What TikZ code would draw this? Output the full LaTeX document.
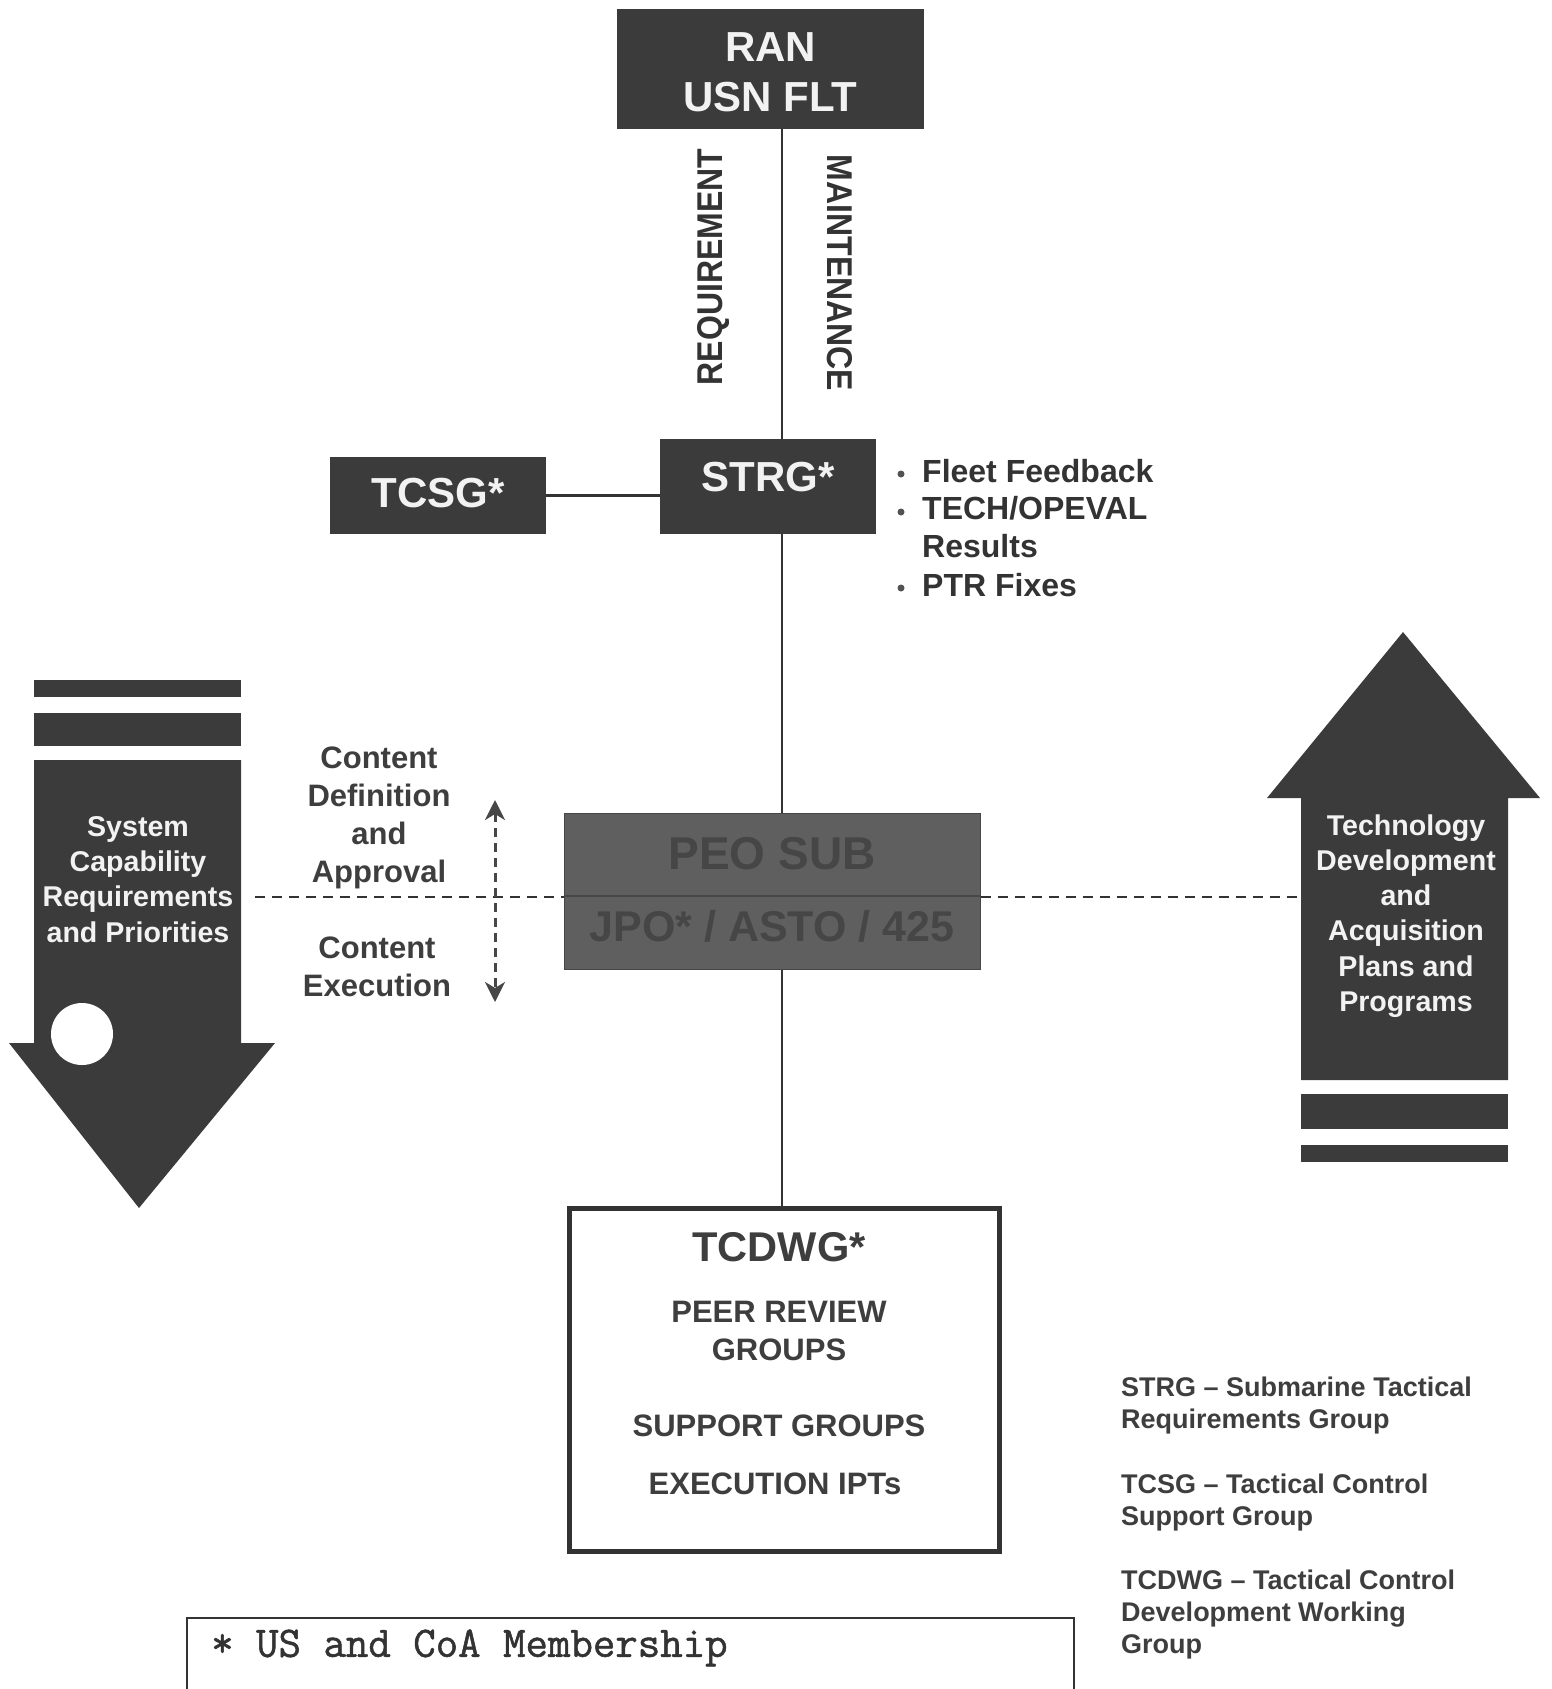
\documentclass[tikz,border=0pt]{standalone}
\usepackage{fontspec}
\setmainfont{Liberation Sans}
\newfontfamily\membfont{Latin Modern Mono}[FakeBold=1.2]
\usetikzlibrary{arrows.meta}
\definecolor{dk}{HTML}{3B3B3B}
\definecolor{peofill}{HTML}{5F5F5F}
\definecolor{peotxt}{HTML}{464646}
\definecolor{ink}{HTML}{333333}
\definecolor{wtxt}{HTML}{F2F2F2}
\definecolor{gtxt}{HTML}{3E3E3E}
\tikzset{
  dkbox/.style={fill=dk, draw=none, inner sep=0pt},
  boxtxt/.style={text=wtxt, font=\bfseries\fontsize{42}{50}\selectfont, inner sep=0pt, align=center},
  conn/.style={draw=ink, line width=2.5pt},
  dashconn/.style={draw=ink, line width=2pt, dash pattern=on 10pt off 7pt},
  vdash/.style={draw=ink!90, line width=3pt, dash pattern=on 9pt off 6pt},
  sidetxt/.style={text=gtxt, font=\bfseries\fontsize{31}{38}\selectfont, inner sep=0pt, align=center},
  arrtxt/.style={text=wtxt, font=\bfseries\fontsize{28.6}{35.2}\selectfont, inner sep=0pt, align=center},
  bullettxt/.style={text=ink, font=\bfseries\fontsize{32}{38}\selectfont, inner sep=0pt, anchor=west},
  bdot/.style={circle, fill=ink!85, draw=none, minimum size=7pt, inner sep=0pt},
  legtxt/.style={text=gtxt, font=\bfseries\fontsize{27}{32}\selectfont, inner sep=0pt, anchor=west, align=left},
  innertxt/.style={text=gtxt, font=\bfseries\fontsize{31}{38}\selectfont, inner sep=0pt, align=center},
  rottxt/.style={text=ink, font=\bfseries\fontsize{32}{38}\selectfont, inner sep=0pt},
}
\begin{document}
\begin{tikzpicture}[x=1pt,y=-1pt]
\useasboundingbox (0,0) rectangle (1551,1689);
\clip (0,0) rectangle (1551,1689);
\fill[white] (0,0) rectangle (1551,1689);

% boxes
\node[dkbox, minimum width=307pt, minimum height=120pt] (ran) at (770.5,69) {};
\node[boxtxt] (rant) at (770.5,72) {RAN\\USN FLT};
\node[dkbox, minimum width=216pt, minimum height=95pt] (strg) at (768,486.5) {};
\node[boxtxt] (strgt) at (768,477) {STRG*};
\node[dkbox, minimum width=216pt, minimum height=77pt] (tcsg) at (438,495.5) {};
\node[boxtxt] (tcsgt) at (438,493) {TCSG*};

\coordinate (xl) at (782,0);

% connectors
\draw[conn] (ran.south -| xl) -- (strg.north -| xl);
\draw[conn] (tcsg.east) -- (tcsg.east -| strg.west);

% rotated labels
\node[rottxt, rotate=90] (req) at (714,267) {\scalebox{1}[1.12]{REQUIREMENT}};
\node[rottxt, rotate=-90] (mnt) at (840,273) {\scalebox{1}[1.12]{MAINTENANCE}};

% bullets
\node[bdot] (b1d) at (901,474) {};
\node[bullettxt] (b1) at (922,471) {Fleet Feedback};
\node[bdot] (b2d) at (901,512) {};
\node[bullettxt] (b2) at (922,508) {TECH/OPEVAL};
\node[bullettxt] (b3) at (922,546) {Results};
\node[bdot] (b4d) at (901,588) {};
\node[bullettxt] (b4) at (922,585) {PTR Fixes};

% PEO box
\node[fill=peofill, draw=peotxt, line width=1pt, minimum width=416pt, minimum height=156pt, inner sep=0pt] (peo) at (772,891) {};
\node[text=peotxt, font=\bfseries\fontsize{46}{50}\selectfont, inner sep=0pt] (peot1) at (772,854) {PEO SUB};
\node[text=peotxt, font=\bfseries\fontsize{43}{50}\selectfont, inner sep=0pt] (peot2) at (772,926) {JPO* / ASTO / 425};
\coordinate (ydiv) at (0,896);
\draw[draw=ink!90, line width=2.5pt] (peo.west |- ydiv) -- (peo.east |- ydiv);

\draw[conn] (strg.south -| xl) -- (peo.north -| xl);

% TCDWG box
\node[draw=ink, line width=5pt, fill=white, minimum width=430pt, minimum height=343pt, inner sep=0pt] (tcdwg) at (784.5,1380) {};
\draw[conn] (peo.south -| xl) -- (tcdwg.north -| xl);
\node[text=gtxt, font=\bfseries\fontsize{41.6}{50}\selectfont, inner sep=0pt] (tct) at (779,1247) {TCDWG*};
\node[innertxt] (peer) at (779,1331) {PEER REVIEW\\GROUPS};
\node[innertxt] (supp) at (779,1426) {SUPPORT GROUPS};
\node[innertxt] (exec) at (775,1484) {EXECUTION IPTs};

% left arrow
\fill[dk] (34,680) rectangle (241,697);
\fill[dk] (34,713) rectangle (241,746);
\fill[dk] (34,760) -- (241,760) -- (241,1043) -- (275,1043) -- (139,1208) -- (9,1043) -- (34,1043) -- cycle;
\fill[white] (82,1034) circle (31);
\node[arrtxt] (sys) at (138,879.5) {System\\Capability\\Requirements\\and Priorities};
\coordinate (la) at (255,897);

% right arrow
\fill[dk] (1301,1094) rectangle (1508,1129);
\fill[dk] (1301,1145) rectangle (1508,1162);
\fill[dk] (1301,1080) -- (1301,798) -- (1267,798) -- (1403,632) -- (1540,798) -- (1508,798) -- (1508,1080) -- cycle;
\node[arrtxt] (tech) at (1406,916) {Technology\\Development\\and\\Acquisition\\Plans and\\Programs};
\coordinate (ra) at (1300,897);

% dashed
\draw[dashconn] (la) -- (peo.west |- la);
\draw[dashconn] (peo.east |- ra) -- (ra);
\coordinate (vd1) at (495,800);
\coordinate (vd2) at (495,1002);
\draw[vdash, {Stealth[length=20pt,width=20pt,inset=6pt]}-{Stealth[length=20pt,width=20pt,inset=6pt]}] (vd1) -- (vd2);

% side texts
\node[sidetxt] (cda) at (379,818) {Content\\Definition\\and\\Approval};
\node[sidetxt] (cex) at (377,967) {Content\\Execution};

% legend
\node[legtxt] (l1) at (1121,1406) {STRG -- Submarine Tactical\\Requirements Group};
\node[legtxt] (l2) at (1121,1502) {TCSG -- Tactical Control\\Support Group};
\node[legtxt] (l3) at (1121,1614) {TCDWG -- Tactical Control\\Development Working\\Group};

% membership
\node[draw=ink, line width=1.5pt, minimum width=887pt, minimum height=110pt, inner sep=0pt] (memb) at (630.5,1673) {};
\node[text=ink, font=\membfont\fontsize{43.6}{46}\selectfont, inner sep=0pt, anchor=west] (membt) at (211,1648) {* US and CoA Membership};
\end{tikzpicture}
\end{document}
